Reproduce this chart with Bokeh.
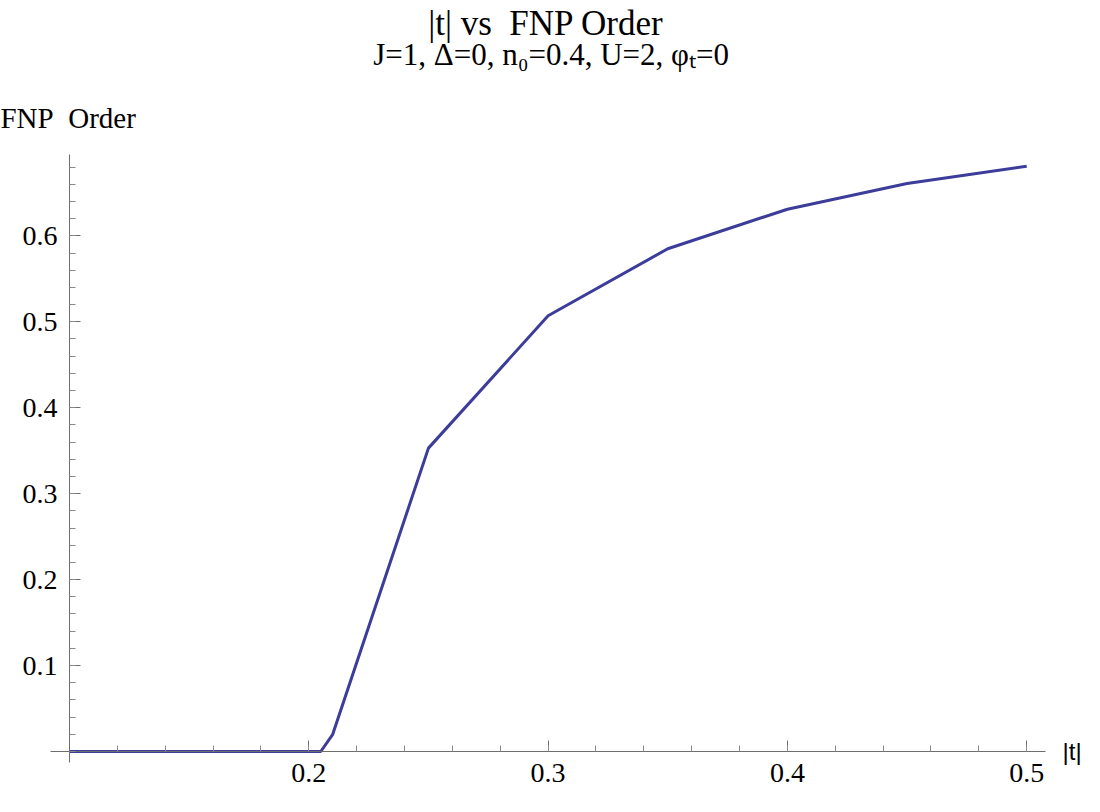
from bokeh.plotting import figure
from bokeh.models import LinearAxis, FixedTicker, Range1d, Label
from bokeh.embed import file_html
from bokeh.resources import INLINE

# Data
t_values = [0.10, 0.15, 0.20, 0.205, 0.21, 0.25, 0.30, 0.35, 0.40, 0.45, 0.50]
fnp_order = [0.0, 0.0, 0.0, 0.0, 0.020, 0.353, 0.507, 0.585, 0.631, 0.661, 0.681]

x_major = [0.2, 0.3, 0.4, 0.5]
x_minor = [round(0.1 + 0.02 * i, 2) for i in range(21)]
y_major = [0.1, 0.2, 0.3, 0.4, 0.5, 0.6]
y_minor = [round(0.02 * i, 2) for i in range(35)]

title_text = "|t| vs\u00a0\u00a0FNP Order"
subtitle_text = "J=1, \u0394=0, n\u2080=0.4, U=2, \u03c6\u209c=0"
y_label = "FNP\u00a0\u00a0Order"
x_label = "|t|"

# axis extents (where the drawn axis lines stop)
x_bounds = (0.0921, 0.5079)
y_bounds = (-0.0127, 0.6947)
x_origin, y_origin = 0.1, 0.0
# visible window (whole canvas is the frame so nothing is clipped)
x_view = (0.07117, 0.52415)
y_view = (-0.05236, 0.87386)

SERIF = "Liberation Serif"
AXIS_GREY = "#6e6e6e"
LINE_COLOR = "#3c3c9a"

p = figure(width=1084, height=796, output_backend="svg", toolbar_location=None,
           x_axis_location=None, y_axis_location=None,
           x_range=Range1d(*x_view), y_range=Range1d(*y_view),
           min_border_left=0, min_border_right=0, min_border_top=0, min_border_bottom=0)
p.grid.visible = False
p.outline_line_color = None
p.background_fill_color = "white"
p.border_fill_color = "white"

xaxis = LinearAxis(fixed_location=y_origin, bounds=x_bounds,
                   ticker=FixedTicker(ticks=x_major, minor_ticks=x_minor))
yaxis = LinearAxis(fixed_location=x_origin, bounds=y_bounds,
                   ticker=FixedTicker(ticks=y_major, minor_ticks=y_minor))
for ax in (xaxis, yaxis):
    ax.axis_line_color = AXIS_GREY
    ax.axis_line_width = 1
    ax.major_tick_line_color = AXIS_GREY
    ax.minor_tick_line_color = "#8a8a8a"
    ax.major_tick_in = 11
    ax.major_tick_out = 0
    ax.minor_tick_in = 6
    ax.minor_tick_out = 0
    ax.major_label_text_font = SERIF
    ax.major_label_text_font_size = "28px"
    ax.major_label_text_color = "black"
xaxis.major_label_standoff = 12
yaxis.major_label_standoff = 12
p.add_layout(xaxis, "below")
p.add_layout(yaxis, "left")

p.line(t_values, fnp_order, line_color=LINE_COLOR, line_width=3)

x_mid = (x_bounds[0] + x_bounds[1]) / 2
p.add_layout(Label(x=x_mid, y=y_bounds[1], x_offset=-2, y_offset=131, text=title_text,
                   text_font=SERIF, text_font_size="35px", text_baseline="alphabetic",
                   text_align="center", text_color="black"))
p.add_layout(Label(x=x_mid, y=y_bounds[1], x_offset=3, y_offset=100, text=subtitle_text,
                   text_font=SERIF, text_font_size="31px", text_baseline="alphabetic",
                   text_align="center", text_color="black"))
p.add_layout(Label(x=x_origin, y=y_bounds[1], x_offset=-69, y_offset=36, text=y_label,
                   text_font=SERIF, text_font_size="29px", text_baseline="middle",
                   text_align="left", text_color="black"))
p.add_layout(Label(x=x_bounds[1], y=y_origin, x_offset=17, y_offset=0, text=x_label,
                   text_font="Liberation Sans", text_font_size="24px",
                   text_baseline="middle", text_align="left", text_color="black"))

open("out.html", "w").write(file_html(p, INLINE))
